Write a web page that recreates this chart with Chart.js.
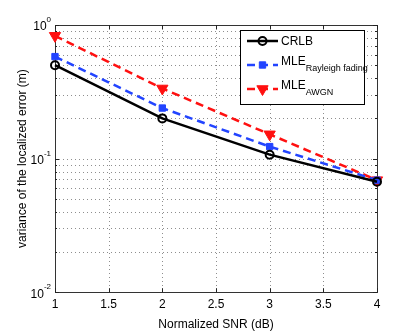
<!DOCTYPE html>
<html><head><meta charset="utf-8">
<script src="https://cdn.jsdelivr.net/npm/chart.js@4/dist/chart.umd.min.js"></script>
<style>html,body{margin:0;padding:0;background:#fff}#wrap{width:415px;height:332px}</style>
</head><body><div id="wrap"><canvas id="c" width="415" height="332"></canvas></div>
<script>
const snrDb = [1, 2, 3, 4];
const crlb = [0.50, 0.20, 0.107, 0.067];
const mleRayleigh = [0.58, 0.239, 0.123, 0.069];
const mleAwgn = [0.83, 0.335, 0.152, 0.069];
const xTicks = [1, 1.5, 2, 2.5, 3, 3.5, 4];
const yMajorTicks = [1, 0.1, 0.01];
const yMajorExponents = ['0', '-1', '-2'];
const yMinorTicks = [0.02, 0.03, 0.04, 0.05, 0.06, 0.07, 0.08, 0.09, 0.2, 0.3, 0.4, 0.5, 0.6, 0.7, 0.8, 0.9];
const seriesNames = ['CRLB', 'MLE', 'MLE'];
const seriesSubs = ['', 'Rayleigh fading', 'AWGN'];
const xTitle = 'Normalized SNR (dB)';
const yTitle = 'variance of the localized error (m)';

const FONT = '"Liberation Sans", Arial, sans-serif';
const BLUE = '#2244ff', RED = '#ff1010';

function pts(arr) { return snrDb.map((x, i) => ({ x: x, y: arr[i] })); }

const drawPlugin = {
  id: 'matlabLook',
  beforeDatasetsDraw(chart) {
    const ctx = chart.ctx, a = chart.chartArea;
    const xs = chart.scales.x, ys = chart.scales.y;
    ctx.save();
    ctx.strokeStyle = '#8e8e8e';
    ctx.lineWidth = 1;
    ctx.setLineDash([1, 3]);
    xTicks.forEach(v => {
      const px = Math.round(xs.getPixelForValue(v)) + 0.5;
      ctx.beginPath(); ctx.moveTo(px, a.top); ctx.lineTo(px, a.bottom); ctx.stroke();
    });
    yMajorTicks.concat(yMinorTicks).forEach(v => {
      const py = Math.round(ys.getPixelForValue(v)) + 0.5;
      ctx.beginPath(); ctx.moveTo(a.left, py); ctx.lineTo(a.right, py); ctx.stroke();
    });
    ctx.setLineDash([]);
    ctx.strokeStyle = '#333';
    ctx.lineWidth = 1;
    ctx.strokeRect(Math.round(a.left) + 0.5, Math.round(a.top) + 0.5, Math.round(a.right - a.left), Math.round(a.bottom - a.top));
    ctx.strokeStyle = '#222';
    xTicks.forEach(v => {
      const px = Math.round(xs.getPixelForValue(v)) + 0.5;
      ctx.beginPath();
      ctx.moveTo(px, a.bottom); ctx.lineTo(px, a.bottom - 4);
      ctx.moveTo(px, a.top); ctx.lineTo(px, a.top + 4);
      ctx.stroke();
    });
    yMajorTicks.forEach(v => {
      const py = Math.round(ys.getPixelForValue(v)) + 0.5;
      ctx.beginPath();
      ctx.moveTo(a.left, py); ctx.lineTo(a.left + 4, py);
      ctx.moveTo(a.right, py); ctx.lineTo(a.right - 4, py);
      ctx.stroke();
    });
    yMinorTicks.forEach(v => {
      const py = Math.round(ys.getPixelForValue(v)) + 0.5;
      ctx.beginPath();
      ctx.moveTo(a.left, py); ctx.lineTo(a.left + 2, py);
      ctx.moveTo(a.right, py); ctx.lineTo(a.right - 2, py);
      ctx.stroke();
    });
    ctx.restore();
  },
  afterDatasetsDraw(chart) {
    const ctx = chart.ctx, a = chart.chartArea;
    const ys = chart.scales.y;
    ctx.save();
    ctx.fillStyle = '#000';
    yMajorTicks.forEach((v, i) => {
      const py = ys.getPixelForValue(v);
      ctx.textBaseline = 'middle';
      ctx.font = '8px ' + FONT;
      const sw = ctx.measureText(yMajorExponents[i]).width;
      ctx.textAlign = 'left';
      ctx.fillText(yMajorExponents[i], a.left - 4 - sw, py - 5);
      ctx.font = '12px ' + FONT;
      ctx.textAlign = 'right';
      ctx.fillText('10', a.left - 4 - sw, py + 2);
    });
    ctx.save();
    ctx.translate(23, (a.top + a.bottom) / 2);
    ctx.rotate(-Math.PI / 2);
    ctx.font = '12px ' + FONT;
    ctx.textAlign = 'center'; ctx.textBaseline = 'middle';
    ctx.fillText(yTitle, 0, 0);
    ctx.restore();
    const lx = 240, ly = 30, lw = 124, lh = 74;
    ctx.fillStyle = '#fff';
    ctx.fillRect(lx, ly, lw, lh);
    ctx.strokeStyle = '#000'; ctx.lineWidth = 1;
    ctx.strokeRect(lx + 0.5, ly + 0.5, lw, lh);
    const rows = [41, 65, 89];
    chart.data.datasets.forEach((ds, i) => {
      const y = rows[i];
      ctx.save();
      ctx.strokeStyle = ds.borderColor;
      ctx.lineWidth = ds.borderWidth;
      ctx.setLineDash(ds.borderDash || []);
      ctx.beginPath(); ctx.moveTo(247, y); ctx.lineTo(278, y); ctx.stroke();
      ctx.setLineDash([]);
      ctx.fillStyle = ds.pointBackgroundColor;
      ctx.strokeStyle = ds.pointBorderColor;
      ctx.lineWidth = ds.pointBorderWidth;
      Chart.helpers.drawPoint(ctx, {
        pointStyle: ds.pointStyle, radius: ds.pointRadius, rotation: ds.pointRotation || 0,
        borderWidth: ds.pointBorderWidth
      }, 262.5, y);
      ctx.restore();
      ctx.fillStyle = '#000';
      ctx.textAlign = 'left'; ctx.textBaseline = 'middle';
      ctx.font = '12px ' + FONT;
      if (seriesSubs[i]) {
        ctx.fillText(seriesNames[i], 281, y - 3);
        const w = ctx.measureText(seriesNames[i]).width;
        ctx.font = '9px ' + FONT;
        ctx.fillText(seriesSubs[i], 281 + w, y + 4);
      } else {
        ctx.fillText(seriesNames[i], 281, y + 1);
      }
    });
    ctx.restore();
  }
};

new Chart(document.getElementById('c'), {
  type: 'line',
  data: {
    datasets: [
      { label: 'CRLB', data: pts(crlb), borderColor: '#000', borderWidth: 2.5,
        pointStyle: 'circle', pointRadius: 4, pointBackgroundColor: 'rgba(0,0,0,0)',
        pointBorderColor: '#000', pointBorderWidth: 2, clip: false },
      { label: 'MLE Rayleigh fading', data: pts(mleRayleigh), borderColor: BLUE, borderWidth: 2.5,
        borderDash: [8, 5], pointStyle: 'rect', pointRadius: 4.5, pointBackgroundColor: BLUE,
        pointBorderColor: BLUE, pointBorderWidth: 1, clip: false },
      { label: 'MLE AWGN', data: pts(mleAwgn), borderColor: RED, borderWidth: 2.5,
        borderDash: [8, 5], pointStyle: 'triangle', pointRotation: 180, pointRadius: 6.5,
        pointBackgroundColor: RED, pointBorderColor: RED, pointBorderWidth: 1, clip: false }
    ]
  },
  options: {
    responsive: false, animation: false, devicePixelRatio: 1,
    layout: { padding: { left: 55, top: 25, right: 38, bottom: 0 } },
    plugins: { legend: { display: false }, tooltip: { enabled: false } },
    scales: {
      x: {
        type: 'linear', min: 1, max: 4,
        afterBuildTicks: s => { s.ticks = xTicks.map(v => ({ value: v })); },
        ticks: { color: '#000', font: { family: FONT, size: 12 }, padding: 5, maxRotation: 0,
          callback: v => String(v) },
        grid: { display: false, drawTicks: false }, border: { display: false },
        title: { display: true, text: xTitle, color: '#000', font: { family: FONT, size: 12 },
          padding: { top: 1, bottom: 0 } }
      },
      y: {
        type: 'logarithmic', min: 0.01, max: 1,
        ticks: { display: false },
        grid: { display: false, drawTicks: false }, border: { display: false }
      }
    }
  },
  plugins: [drawPlugin]
});
</script>
</body></html>
